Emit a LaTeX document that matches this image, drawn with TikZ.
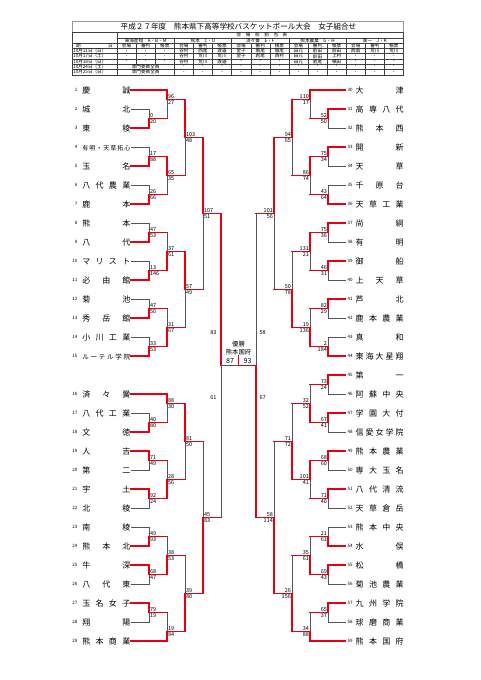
\documentclass[tikz,border=0pt]{standalone}
\usepackage{fontspec}
\setmainfont{Noto Sans CJK JP}
\usetikzlibrary{calc}

\definecolor{winred}{RGB}{230,0,18}
\definecolor{linegray}{RGB}{85,85,85}

\newcommand{\nm}[1]{\makebox[48pt][s]{#1}}
\newcommand{\no}[1]{\raisebox{1.2pt}{\fontsize{4.5}{4.5}\selectfont #1}}

\begin{document}
\begin{tikzpicture}[x=1pt, y=-1pt,
    lteam/.style={anchor=east, inner sep=0pt, text height=7pt, text depth=1pt, font=\fontsize{8}{8}\selectfont},
    rteam/.style={anchor=west, inner sep=0pt, text height=7pt, text depth=1pt, font=\fontsize{8}{8}\selectfont},
    score/.style={inner sep=0.9pt, font=\fontsize{5.5}{5.5}\selectfont},
    fscore/.style={inner sep=0pt, font=\fontsize{7}{7}\selectfont},
    cell/.style={inner sep=0pt, font=\fontsize{4.6}{4.6}\selectfont},
    grid/.style={draw=black!75, line width=0.35pt},
    loser/.style={draw=linegray, line width=0.7pt},
    win/.style={draw=winred, line width=1.5pt, line cap=rect}
  ]
  \fill[white] (0,0) rectangle (480,680);
  \useasboundingbox (0,0) rectangle (480,680);

  % --- HEADER TABLE ---
  \node[font=\fontsize{7.6}{7.6}\selectfont, inner sep=0pt] (title) at (238.5,26.5) {平成２７年度　熊本県下高等学校バスケットボール大会　女子組合せ};
  \draw[grid, draw=black!40] (72,32.4) -- (72,21.5) -- (403.5,21.5) -- (403.5,32.4);
  \draw[grid, line width=0.5pt] (72,32.4) rectangle (403.5,74.8);
  \draw[grid] (117,37.7) -- (403.5,37.7);
  \foreach \yy in {43.0,48.3,53.6,58.9,64.2,69.5}
    \draw[grid] (72,\yy) -- (403.5,\yy);
  \draw[grid] (117,32.4) -- (117,74.8);
  \foreach \k in {3,6,9,12}
    \draw[grid] ({117+19.1*\k},37.7) -- ({117+19.1*\k},74.8);
  \foreach \k in {4,5,7,8,10,11,13,14}
    \draw[grid] ({117+19.1*\k},43.0) -- ({117+19.1*\k},74.8);
  \foreach \k in {1,2}
    \draw[grid] ({117+19.1*\k},43.0) -- ({117+19.1*\k},64.2);

  \node[cell] (plan) at (262,35.05) {会　場　校　割　当　表};
  \foreach \t [count=\g from 0] in {東海星翔　A・B・M, 熊本　C・D, 済々黌　E・F, 熊本農業　G・H, 第一　J・K}
    \node[cell] (grp\g) at ({117+57.3*\g+28.65},40.35) {\t};
  \node[cell, anchor=west] (kijitsu) at (76,45.65) {期};
  \node[cell, anchor=east] (hi) at (113,45.65) {日};
  \foreach \g in {0,...,4}
    \foreach \c/\t in {0/会場,1/審判,2/帳票}
      \node[cell] (hd\g\c) at ({117+57.3*\g+19.1*(\c+0.5)},45.65) {\t};
  \foreach \r/\yy/\d in {a/50.95/10月11日（日）, b/56.25/10月17日（土）, c/61.55/10月18日（日）, d/66.85/10月24日（土）, e/72.15/10月25日（日）}
    \node[cell, anchor=west] (date\r) at (73,\yy) {\d};
  \foreach \t [count=\k from 0] in {・,・,・,谷村,西尾,渡邉,金子,堀尾,堀尾,田元,前田,前田,西島,荒川,荒川}
    \node[cell] (ca\k) at ({117+19.1*(\k+0.5)},50.95) {\t};
  \foreach \t [count=\k from 0] in {・,・,・,谷村,荒川,荒川,金子,岩尾,西村,田元,前田,上村,・,・,・}
    \node[cell] (cb\k) at ({117+19.1*(\k+0.5)},56.25) {\t};
  \foreach \t [count=\k from 0] in {・,・,・,谷村,荒川,渡邉,・,・,・,田元,岩尾,横田,・,・,・}
    \node[cell] (cc\k) at ({117+19.1*(\k+0.5)},61.55) {\t};
  \foreach \yy/\r in {66.85/d,72.15/e} {
    \node[cell] (all\r) at (145.65,\yy) {専門委員全員};
    \foreach \k in {3,...,14}
      \node[cell] (c\r\k) at ({117+19.1*(\k+0.5)},\yy) {・};
  }

  % --- TEAMS ---
  \foreach \n/\s in {1/{慶 誠}, 2/{城 北}, 3/{東 稜}, 4/{\fontsize{6}{6}\selectfont 有 明 ・ 天 草 拓 心}, 5/{玉 名}, 6/{八 代 農 業}, 7/{鹿 本}, 8/{熊 本}, 9/{八 代}, 10/{マ リ ス ト}, 11/{必 由 館}, 12/{菊 池}, 13/{秀 岳 館}, 14/{小 川 工 業}, 15/{\fontsize{6.5}{6.5}\selectfont ル ー テ ル 学 院}}
    \node[lteam] (t\n) at (130.5,{90+19*(\n-1)}) {\makebox[11pt][r]{\no{\n}}\hspace{5pt}\nm{\s}};
  \foreach \n/\s in {16/{済 々 黌}, 17/{八 代 工 業}, 18/{文 徳}, 19/{人 吉}, 20/{第 二}, 21/{宇 土}, 22/{北 稜}, 23/{南 稜}, 24/{熊 本 北}, 25/{牛 深}, 26/{八 代 東}, 27/{玉 名 女 子}, 28/{翔 陽}, 29/{熊 本 商 業}}
    \node[lteam] (t\n) at (130.5,{90+19*\n}) {\makebox[11pt][r]{\no{\n}}\hspace{5pt}\nm{\s}};
  \foreach \n/\s in {30/{大 津}, 31/{高 専 八 代}, 32/{熊 本 西}, 33/{開 新}, 34/{天 草}, 35/{千 原 台}, 36/{天 草 工 業}, 37/{尚 絅}, 38/{有 明}, 39/{御 船}, 40/{上 天 草}, 41/{芦 北}, 42/{鹿 本 農 業}, 43/{真 和}, 44/{東 海 大 星 翔}, 45/{第 一}, 46/{阿 蘇 中 央}, 47/{学 園 大 付}, 48/{信 愛 女 学 院}, 49/{熊 本 農 業}, 50/{専 大 玉 名}, 51/{八 代 清 流}, 52/{天 草 倉 岳}, 53/{熊 本 中 央}, 54/{水 俣}, 55/{松 橋}, 56/{菊 池 農 業}, 57/{九 州 学 院}, 58/{球 磨 商 業}, 59/{熊 本 国 府}}
    \node[rteam] (t\n) at (345.5,{90+19*(\n-30)}) {\hspace{2pt}\makebox[8pt][l]{\no{\n}}\nm{\s}};

  % --- MATCHES ---
  \foreach \m/\x/\y/\a/\b in {2v3/149/118.5/0/20, 1v3/167/99.5/96/27, 4v5/149/156.5/17/88, 6v7/149/194.5/26/66, 4v7/167/175.5/65/35, 1v7/185/137.5/103/48, 8v9/149/232.5/47/53, 10v11/149/270.5/13/146, 8v11/167/251.5/37/61, 12v13/149/308.5/47/50, 14v15/149/346.5/33/53, 12v15/167/327.5/31/67, 8v15/185/289.5/57/49, 1v15/203/213.5/107/51, 17v18/149/422.5/40/80, 16v18/167/403.5/88/30, 19v20/149/460.5/71/49, 21v22/149/498.5/92/24, 19v22/167/479.5/28/56, 16v22/185/441.5/81/50, 23v24/149/536.5/49/93, 25v26/149/574.5/68/47, 23v26/167/555.5/38/53, 27v28/149/612.5/79/19, 27v29/167/631.5/19/84, 23v29/185/593.5/39/80, 16v29/203/517.5/45/83} {
    \coordinate (m\m) at (\x,\y);
    \node[score, anchor=south west] (sa\m) at (m\m) {\a};
    \node[score, anchor=north west] (sb\m) at (m\m) {\b};
  }
  \foreach \m/\x/\y/\a/\b in {31v32/328/118.5/52/50, 30v32/310/99.5/110/17, 33v34/328/156.5/75/34, 35v36/328/194.5/43/64, 33v36/310/175.5/86/74, 30v36/292/137.5/94/65, 37v38/328/232.5/75/36, 39v40/328/270.5/46/31, 37v40/310/251.5/131/21, 41v42/328/308.5/82/29, 43v44/328/346.5/2/184, 41v44/310/327.5/19/136, 37v44/292/289.5/50/78, 30v44/274/213.5/101/56, 45v46/328/384.5/73/24, 47v48/328/422.5/67/41, 45v48/310/403.5/32/52, 49v50/328/460.5/68/60, 51v52/328/498.5/71/40, 49v52/310/479.5/101/41, 45v52/292/441.5/71/72, 53v54/328/536.5/21/61, 55v56/328/574.5/69/43, 53v56/310/555.5/35/61, 57v58/328/612.5/65/37, 57v59/310/631.5/34/88, 53v59/292/593.5/26/156, 45v59/274/517.5/58/114} {
    \coordinate (m\m) at (\x,\y);
    \node[score, anchor=south east] (sa\m) at (m\m) {\a};
    \node[score, anchor=north east] (sb\m) at (m\m) {\b};
  }
  \coordinate (m1v29) at (221,365.5);
  \coordinate (m30v59) at (256,365.5);
  \coordinate (fin) at (238.5,365.5);
  \coordinate (champ) at (238.5,356);
  \node[score, anchor=east] (sa1v29) at (217.5,333) {83};
  \node[score, anchor=east] (sb1v29) at (217.5,398) {61};
  \node[score, anchor=west] (sa30v59) at (258.5,333) {58};
  \node[score, anchor=west] (sb30v59) at (258.5,398) {67};
  \node[fscore] (f87) at (230,361) {87};
  \node[fscore] (f93) at (247.5,361) {93};
  \node[fscore, font=\fontsize{6.3}{6.3}\selectfont] (yusho) at (238.5,344.3) {優勝};
  \node[fscore, font=\fontsize{6.3}{6.3}\selectfont] (yteam) at (238.5,352.3) {熊本国府};

  % --- CONNECTIONS ---
  % teams out in their first game
  \foreach \a/\b in {t2.east/m2v3, t4.east/m4v5, t6.east/m6v7, t8.east/m8v9, t10.east/m10v11, t12.east/m12v13, t14.east/m14v15, t17.east/m17v18, t20.east/m19v20, t22.east/m21v22, t23.east/m23v24, t26.east/m25v26, t28.east/m27v28, t32.west/m31v32, t34.west/m33v34, t35.west/m35v36, t38.west/m37v38, t40.west/m39v40, t42.west/m41v42, t43.west/m43v44, t46.west/m45v46, t48.west/m47v48, t50.west/m49v50, t52.west/m51v52, t53.west/m53v54, t56.west/m55v56, t58.west/m57v58}
    \draw[loser] (\a) -| (\b);
  % winners that lost the next game
  \foreach \a/\b in {m2v3/m1v3, m6v7/m4v7, m4v7/m1v7, m8v9/m8v11, m12v13/m12v15, m12v15/m8v15, m8v15/m1v15, m17v18/m16v18, m19v20/m19v22, m19v22/m16v22, m23v24/m23v26, m27v28/m27v29, m23v26/m23v29, m16v22/m16v29, m16v29/m1v29, m31v32/m30v32, m35v36/m33v36, m33v36/m30v36, m39v40/m37v40, m41v42/m41v44, m37v40/m37v44, m37v44/m30v44, m45v46/m45v48, m51v52/m49v52, m45v48/m45v52, m53v54/m53v56, m57v58/m57v59, m53v56/m53v59, m45v52/m45v59, m30v44/m30v59} {
    \draw[loser] (\a -| \b) -- (\b);
    \draw[win] (\a) -- (\a -| \b);
  }
  % winners
  \foreach \a/\b in {t1.east/m1v3, t3.east/m2v3, t5.east/m4v5, t7.east/m6v7, m4v5/m4v7, m1v3/m1v7, t9.east/m8v9, t11.east/m10v11, m10v11/m8v11, t13.east/m12v13, t15.east/m14v15, m14v15/m12v15, m8v11/m8v15, m1v7/m1v15, m1v15/m1v29, t16.east/m16v18, t18.east/m17v18, t19.east/m19v20, t21.east/m21v22, m21v22/m19v22, m16v18/m16v22, t24.east/m23v24, t25.east/m25v26, m25v26/m23v26, t27.east/m27v28, t29.east/m27v29, m27v29/m23v29, m23v29/m16v29, t30.west/m30v32, t31.west/m31v32, t33.west/m33v34, m33v34/m33v36, t36.west/m35v36, m30v32/m30v36, t37.west/m37v38, m37v38/m37v40, t39.west/m39v40, t41.west/m41v42, t44.west/m43v44, m43v44/m41v44, m41v44/m37v44, m30v36/m30v44, t45.west/m45v46, t47.west/m47v48, m47v48/m45v48, t49.west/m49v50, m49v50/m49v52, t51.west/m51v52, m49v52/m45v52, t54.west/m53v54, t55.west/m55v56, m55v56/m53v56, t57.west/m57v58, t59.west/m57v59, m57v59/m53v59, m53v59/m45v59, m45v59/m30v59}
    \draw[win] (\a) -| (\b);
  % final
  \draw[loser] (m1v29) -- (fin);
  \draw[win] (m30v59) -- (fin) -- (champ);
\end{tikzpicture}
\end{document}
